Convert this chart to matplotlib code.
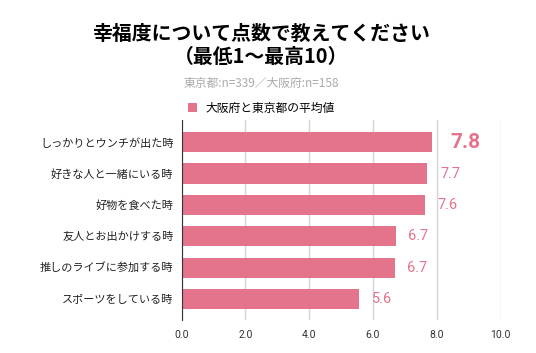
import numpy as np
import matplotlib.pyplot as plt

plt.rcParams['font.family'] = ['Noto Sans CJK JP', 'DejaVu Sans']

# data
categories = ['しっかりとウンチが出た時', '好きな人と一緒にいる時', '好物を食べた時',
              '友人とお出かけする時', '推しのライブに参加する時', 'スポーツをしている時']
scores = [7.84, 7.70, 7.62, 6.71, 6.68, 5.56]
xticks = [0, 2, 4, 6, 8, 10]

pink = '#e4738c'

fig = plt.figure(figsize=(5.36, 3.53), dpi=100)
ax = fig.add_axes([0.339, 0.0935, 0.595, 0.566])

y = np.arange(len(categories))
ax.barh(y, scores, height=0.64, color=pink, label='大阪府と東京都の平均値', zorder=3)

for i, v in enumerate(scores):
    if i == 0:
        ax.text(v + 0.6, i, f'{v:.1f}', va='center', ha='left', color=pink,
                fontsize=15, fontweight='bold', family='Roboto')
    else:
        ax.text(v + 0.4, i, f'{v:.1f}', va='center', ha='left', color=pink,
                fontsize=10.5, family='Roboto')

ax.set_ylim(5.67, -0.70)
ax.set_xlim(0, 10)
ax.set_yticks(y)
ax.set_yticklabels(categories, fontsize=8, color='#222222')
ax.set_xticks(xticks)
ax.set_xticklabels([f'{t:.1f}' for t in xticks], fontsize=7.5, color='#333333',
                   family='Roboto')
ax.tick_params(length=0, pad=6)
ax.tick_params(axis='x', pad=7)
ax.grid(axis='x', color='#d4d4d4', linewidth=1, zorder=0)
for s in ['top', 'right', 'bottom']:
    ax.spines[s].set_visible(False)
ax.spines['left'].set_color('#333333')
ax.spines['left'].set_zorder(4)

cx = 261 / 536
fig.text(cx, 1 - 33 / 353, '幸福度について点数で教えてください', ha='center', va='center',
         fontsize=14.3, fontweight='bold')
fig.text(cx, 1 - 56 / 353, '（最低1～最高10）', ha='center', va='center',
         fontsize=14.3, fontweight='bold')
fig.text(cx, 1 - 83 / 353, '東京都:n=339／大阪府:n=158', ha='center', va='center',
         fontsize=8.5, color='#aaaaaa')

fig.legend(loc='center', bbox_to_anchor=(cx, 1 - 108 / 353), frameon=False,
           fontsize=8.5, handlelength=0.8, handleheight=0.8, handletextpad=0.7)

fig.savefig('out.png', dpi=100)
